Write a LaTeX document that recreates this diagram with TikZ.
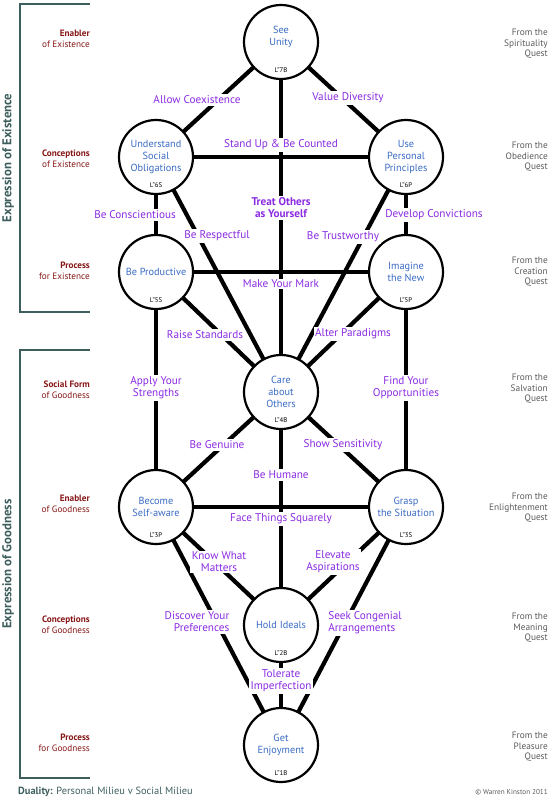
\documentclass[tikz,border=0pt]{standalone}
\usepackage{fontspec}
\setmainfont{PT Sans}
\usetikzlibrary{positioning}
\definecolor{lblpurple}{RGB}{138,43,226}
\definecolor{nodeblue}{RGB}{58,108,196}
\definecolor{lvlred}{RGB}{135,22,22}
\definecolor{questgray}{RGB}{90,90,90}
\definecolor{slate}{RGB}{62,94,94}

\begin{document}
\begin{tikzpicture}[x=1pt,y=-1pt,
	sph/.style={draw,circle,fill=white,line width=2.2pt,minimum size=74pt,inner sep=0,outer sep=0,text=nodeblue,align=center,font=\fontsize{10.3}{12}\selectfont},
	code/.style={inner sep=0,font=\fontsize{6.8}{7}\selectfont},
	link/.style={line width=4.2pt},
	lbl/.style={fill=white,inner sep=1.5pt,text=lblpurple,align=center,font=\fontsize{11.2}{12}\selectfont},
	lvl/.style={anchor=east,align=right,inner sep=0,text=lvlred,font=\fontsize{9.2}{11}\selectfont},
	quest/.style={anchor=east,align=right,inner sep=0,text=questgray,font=\fontsize{9.3}{10.5}\selectfont},
	brk/.style={draw=slate,line width=2pt}]
	\useasboundingbox (0,0) rectangle (550,800);
	% the ten spheres
	\node[sph] (7B) at (281,42) {See\\Unity\\\mbox{}};
	\node[sph] (6S) at (156,157) {Understand\\Social\\Obligations};
	\node[sph] (6P) at (406,157) {Use\\Personal\\Principles};
	\node[sph] (5S) at (156,272) {Be Productive};
	\node[sph] (5P) at (406,272) {Imagine\\the New};
	\node[sph] (4B) at (281,392) {Care\\about\\Others};
	\node[sph] (3P) at (156,507) {Become\\Self-aware};
	\node[sph] (3S) at (406,507) {Grasp\\the Situation};
	\node[sph] (2B) at (281,625) {Hold Ideals};
	\node[sph] (1B) at (281,745) {Get\\Enjoyment};
	\node[code,above=6pt of 7B.south] (c7B) {L''7B};
	\node[code,above=6pt of 6S.south] (c6S) {L''6S};
	\node[code,above=6pt of 6P.south] (c6P) {L''6P};
	\node[code,above=6pt of 5S.south] (c5S) {L''5S};
	\node[code,above=6pt of 5P.south] (c5P) {L''5P};
	\node[code,above=6pt of 4B.south] (c4B) {L''4B};
	\node[code,above=6pt of 3P.south] (c3P) {L''3P};
	\node[code,above=6pt of 3S.south] (c3S) {L''3S};
	\node[code,above=6pt of 2B.south] (c2B) {L''2B};
	\node[code,above=6pt of 1B.south] (c1B) {L''1B};
	% paths
	\draw[link] (6S) -- (7B) -- (6P);
	\draw[link] (7B) -- (4B) -- (2B) -- (1B);
	\draw[link] (6S) -- (6P);
	\draw[link] (6S) -- (5S) -- (3P) -- (3S) -- (5P) -- (6P);
	\draw[link] (5S) -- (5P);
	\draw[link] (6S) -- (4B) -- (6P);
	\draw[link] (5S) -- (4B) -- (5P);
	\draw[link] (3P) -- (4B) -- (3S);
	\draw[link] (3P) -- (2B) -- (3S);
	\draw[link] (3P) -- (1B) -- (3S);
	% path labels
	\node[lbl] (coexist) at (197,100) {Allow Coexistence};
	\node[lbl] (diversity) at (348,98) {Value Diversity};
	\node[lbl] (standup) at (281,145) {Stand Up \& Be Counted};
	\node[lbl,font=\fontsize{11.2}{12}\selectfont\bfseries] (treat) at (281,208) {Treat Others\\as Yourself};
	\node[lbl] (conscient) at (135,215) {Be Conscientious};
	\node[lbl] (respect) at (217,236) {Be Respectful};
	\node[lbl] (trust) at (343,237) {Be Trustworthy};
	\node[lbl] (convict) at (434,215) {Develop Convictions};
	\node[lbl] (mark) at (281,284) {Make Your Mark};
	\node[lbl] (raise) at (205,335) {Raise Standards};
	\node[lbl] (alter) at (353,334) {Alter Paradigms};
	\node[lbl] (strength) at (156,388) {Apply Your\\Strengths};
	\node[lbl] (opport) at (406,388) {Find Your\\Opportunities};
	\node[lbl] (genuine) at (217,445) {Be Genuine};
	\node[lbl] (sensitive) at (343,445) {Show Sensitivity};
	\node[lbl] (humane) at (281,475) {Be Humane};
	\node[lbl] (squarely) at (281,519) {Face Things Squarely};
	\node[lbl] (matters) at (219,562) {Know What\\Matters};
	\node[lbl] (elevate) at (333,562) {Elevate\\Aspirations};
	\node[lbl,align=right] (prefer) at (197,622) {Discover Your\\Preferences};
	\node[lbl,align=left] (congenial) at (365,623) {Seek Congenial\\Arrangements};
	\node[lbl] (tolerate) at (281,681) {Tolerate\\Imperfection};
	% levels on the left
	\node[lvl] (l7) at (90,39) {\textbf{Enabler}\\of Existence};
	\node[lvl] (l6) at (90,159) {\textbf{Conceptions}\\of Existence};
	\node[lvl] (l5) at (90,271) {\textbf{Process}\\for Existence};
	\node[lvl] (l4) at (90,390) {\textbf{Social Form}\\of Goodness};
	\node[lvl] (l3) at (90,504) {\textbf{Enabler}\\of Goodness};
	\node[lvl] (l2) at (90,625) {\textbf{Conceptions}\\of Goodness};
	\node[lvl] (l1) at (90,743) {\textbf{Process}\\for Goodness};
	% quests on the right
	\node[quest] (q7) at (548,44) {From the\\Spirituality\\Quest};
	\node[quest] (q6) at (548,157) {From the\\Obedience\\Quest};
	\node[quest] (q5) at (548,272) {From the\\Creation\\Quest};
	\node[quest] (q4) at (548,389) {From the\\Salvation\\Quest};
	\node[quest] (q3) at (548,508) {From the\\Enlightenment\\Quest};
	\node[quest] (q2) at (548,628) {From the\\Meaning\\Quest};
	\node[quest] (q1) at (548,747) {From the\\Pleasure\\Quest};
	% brackets
	\draw[brk] (90,4) -| (20,312) -- (90,312);
	\draw[brk] (90,350) -| (20,778) -- (90,778);
	\node[rotate=90,text=slate,font=\fontsize{12.8}{14}\selectfont\bfseries] (existence) at (8,158) {Expression of Existence};
	\node[rotate=90,text=slate,font=\fontsize{12.8}{14}\selectfont\bfseries] (goodness) at (8,564) {Expression of Goodness};
	\node[anchor=west,inner sep=0,text=slate,font=\fontsize{10.4}{12}\selectfont] (duality) at (18,792) {\textbf{Duality:} Personal Milieu v Social Milieu};
	\node[anchor=east,inner sep=0,text=questgray,font=\fontsize{7.2}{8}\selectfont] (copy) at (548,792) {© Warren Kinston 2011};
\end{tikzpicture}
\end{document}
